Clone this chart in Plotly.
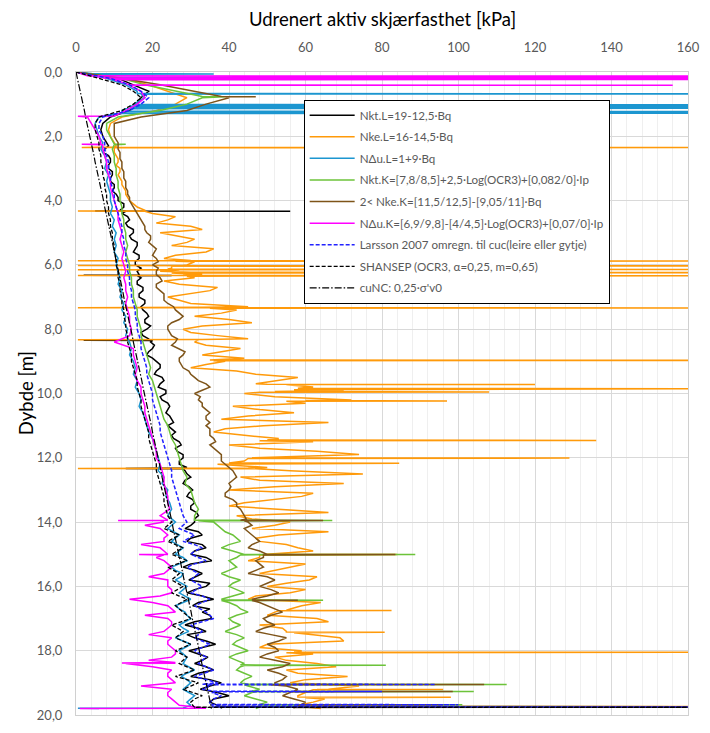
import plotly.graph_objects as go

# ---------------- data ----------------
depth = [0.0, 0.2, 0.4, 0.6, 0.8, 1.0, 1.2, 1.4, 1.6, 1.8,
         2.0, 2.2, 2.4, 2.6, 2.8, 3.0, 3.2, 3.4, 3.6, 3.8,
         4.0, 4.2, 4.4, 4.6, 4.8, 5.0, 5.2, 5.4, 5.6, 5.8,
         6.0, 6.2, 6.4, 6.6, 6.8, 7.0, 7.2, 7.4, 7.6, 7.8,
         8.0, 8.2, 8.4, 8.6, 8.8, 9.0, 9.2, 9.4, 9.6, 9.8,
         10.0, 10.2, 10.4, 10.6, 10.8, 11.0, 11.2, 11.4, 11.6, 11.8,
         12.0, 12.2, 12.4, 12.6, 12.8, 13.0, 13.2, 13.4, 13.6, 13.8,
         14.0, 14.2, 14.4, 14.6, 14.8, 15.0, 15.2, 15.4, 15.6, 15.8,
         16.0, 16.2, 16.4, 16.6, 16.8, 17.0, 17.2, 17.4, 17.6, 17.8,
         18.0, 18.2, 18.4, 18.6, 18.8, 19.0, 19.2, 19.4, 19.6, 19.8]

# intermediate readings (odd tenths)
depth_mid = [2.1, 2.3, 2.5, 2.7, 2.9, 3.1, 3.3, 3.5, 3.7, 3.9,
             4.1, 4.3, 4.5, 4.7, 4.9, 5.1, 5.3, 5.5, 5.7, 5.9,
             6.1, 6.3, 6.5, 6.7, 6.9, 7.1, 7.3, 7.5, 7.7, 7.9,
             8.1, 8.3, 8.5, 8.7, 8.9, 9.1, 9.3, 9.5, 9.7, 9.9,
             10.1, 10.3, 10.5, 10.7, 10.9, 11.1, 11.3, 11.5, 11.7, 11.9,
             12.1, 12.3, 12.5, 12.7, 12.9, 13.1, 13.3, 13.5, 13.7, 13.9,
             14.1, 14.3, 14.5, 14.7, 14.9, 15.1, 15.3, 15.5, 15.7, 15.9,
             16.1, 16.3, 16.5, 16.7, 16.9, 17.1, 17.3, 17.5, 17.7, 17.9,
             18.1, 18.3, 18.5, 18.7, 18.9, 19.1, 19.3, 19.5, 19.7]
depth_mid_deep = [14.1, 14.3, 14.5, 14.7, 14.9, 15.1, 15.3, 15.5, 15.7, 15.9,
                  16.1, 16.3, 16.5, 16.7, 16.9, 17.1, 17.3, 17.5, 17.7, 17.9,
                  18.1, 18.3, 18.5, 18.7, 18.9, 19.1, 19.3, 19.5, 19.7]

# Nkt.L
nkt_L = [0, 11, 15, 19, 17, 16, 14, 9, 7, 6.5,
         7, 8, 7.5, 8.5, 9, 8.5, 9.5, 9, 10, 10.5,
         11, 12.5, 12, 14, 13.5, 15, 14.5, 16, 15, 16.5,
         15.5, 16, 17, 16, 17.5, 16.5, 18, 17.5, 19, 18,
         18.5, 17.5, 19.5, 20, 18.5, 21, 22, 20.5, 23, 21.5,
         23.5, 22.5, 24.5, 23.5, 25, 24, 26, 25.5, 27.5, 26.5,
         28, 27, 28.5, 30, 28, 30.5, 29, 31, 30, 32,
         31, 28.5, 33, 29, 34, 30, 35.5, 28, 33, 29.5,
         34, 29, 36, 30.5, 33, 35.5, 28.5, 34, 31, 36.5,
         29.5, 34.5, 31, 36, 30, 38, 32.5, 40, 35, 38]
nkt_L_mid = [7.5, 8.5, 7, 9, 8.5, 9.5, 9, 10, 9.5, 11,
             12.5, 11.5, 13.5, 13, 15, 14, 16, 15.5, 16.5, 15.5,
             17, 16.5, 16, 17.5, 16.5, 18, 17, 18.5, 18, 19.5,
             17, 19, 20.5, 19, 20, 22, 21, 22.5, 22, 23.5,
             22, 24, 24, 24.5, 25.5, 25, 25, 27, 26, 28,
             27, 29, 29, 28.5, 29.5, 29.5, 30.5, 30, 31.5, 31,
             30, 32, 30, 33, 31, 34, 30, 31, 31, 35,
             31, 33, 32, 35, 35, 31, 32, 29, 34, 33,
             32, 33, 34, 32, 35, 35, 37, 36, 37]
nkt_L_spk_d = [4.32, 4.325, 4.33, 4.335, 6.32, 6.325, 6.33, 6.335,
               8.33, 8.34, 8.35, 12.32, 12.33, 12.34, 19.735, 19.74, 19.745]
nkt_L_spk_v = [13, 5, 56, 13, 16, 2, 25, 16,
               19, 2, 20, 28, 13, 28, 38, 170, 38]

# Nke.L
nke_L = [0, 13, 19, 24, 29, 26, 21, 12, 9, 8.5,
         9, 10, 10, 10.5, 11, 11.5, 11, 12, 12.5, 13,
         14, 16, 20, 24, 30, 22, 31, 25, 34, 23,
         29, 22, 31, 27, 35, 24, 30, 42, 31, 46,
         28, 37, 31, 43, 33, 39, 30, 47, 52, 62,
         44, 72, 41, 57, 38, 49, 36, 53, 40, 63,
         46, 37, 56, 43, 70, 40, 59, 44, 52, 42,
         56, 46, 53, 48, 58, 50, 45, 56, 48, 61,
         50, 56, 45, 59, 52, 63, 48, 55, 69, 50,
         59, 52, 63, 55, 71, 56, 66, 58, 62, 64]
nke_L_mid = [9.5, 10.5, 10, 11, 10.5, 11.5, 11.5, 12, 13, 13.5,
             15, 18, 26, 21, 33, 27, 29, 36, 26, 31,
             25, 33, 23, 37, 30, 27, 45, 38, 40, 33,
             30, 45, 34, 38, 44, 34, 42, 58, 47, 70,
             52, 60, 48, 45, 66, 39, 44, 62, 48, 74,
             44, 50, 75, 48, 52, 62, 52, 40, 66, 46,
             52, 66, 47, 55, 62, 48, 60, 52, 63, 55,
             60, 47, 64, 56, 50, 66, 54, 62, 70, 48,
             62, 55, 68, 58, 60, 74, 60, 65, 58]
nke_L_spk_d = [2.33, 2.345, 2.35, 2.36, 4.32, 4.325, 4.33,
               5.86, 5.87, 5.88, 5.89, 6.01, 6.02, 6.03, 6.04,
               6.13, 6.14, 6.15, 6.16, 6.23, 6.24, 6.25,
               6.32, 6.33, 6.34, 6.35, 7.32, 7.33, 7.34, 7.35,
               8.32, 8.325, 8.33, 8.96, 8.97, 8.98,
               9.71, 9.72, 9.73, 9.84, 9.85, 9.86, 9.87, 9.88,
               9.94, 9.95, 9.96, 10.22, 10.23, 10.24,
               11.45, 11.46, 11.47, 12.005, 12.01, 12.02,
               12.16, 12.17, 12.18, 12.32, 12.33, 12.34,
               15.005, 15.01, 15.02, 16.74, 16.75, 16.76,
               17.42, 17.43, 17.44, 18.04, 18.05, 18.06,
               19.205, 19.21, 19.215, 19.44, 19.45, 19.46,
               19.73, 19.74, 19.75]
nke_L_spk_v = [10, 1.5, 170, 10, 18, 0.5, 18,
               30, 0.5, 170, 26, 28, 0.5, 170, 25,
               24, 170, 0.5, 27, 30, 170, 25,
               28, 0.5, 170, 29, 33, 0.5, 170, 35,
               33, 0.5, 32, 35, 170, 36,
               50, 120, 55, 58, 170, 60, 170, 57,
               52, 108, 48, 60, 97, 55,
               50, 136, 48, 48, 129, 45,
               40, 84.5, 38, 45, 0.5, 47,
               50, 84, 48, 55, 82.5, 53,
               55, 80.7, 57, 57, 170, 55,
               63, 96, 62, 58, 98, 60,
               62, 170, 60]

# NΔu.L
ndu_L = [0, 8, 13, 16, 18, 15, 12, 6, 5, 5.5,
         6, 7, 6.5, 7.5, 8, 7.5, 8.5, 8, 8.5, 9,
         9, 9.5, 9, 10, 9.5, 10.5, 10, 10.5, 10, 11,
         10.5, 11, 11.5, 11, 12, 11.5, 12.5, 12, 13, 12.5,
         13.5, 13, 14, 14.5, 14, 15, 15.5, 15, 16, 15.5,
         16.5, 17, 16.5, 17.5, 18, 18.5, 19, 20, 20.5, 21,
         21.5, 22, 21.5, 23, 22.5, 24, 23.5, 24.5, 25, 24,
         26, 24, 27, 25, 28, 26, 29, 25, 28, 26,
         29, 27, 30, 26, 28.5, 30, 27, 29.5, 26, 30,
         27, 29, 28, 31, 27.5, 30, 28, 31, 29, 6]
ndu_L_mid = [25, 25.5, 26, 26.5, 27, 28, 27, 26, 27.5, 27.5,
             28, 28.5, 28, 27, 29, 28.5, 28, 27.5, 28, 28.5,
             28, 28.5, 29.5, 29, 29, 29, 29.5, 30, 30]
ndu_L_spk_d = [0.05, 0.06, 0.07, 0.17, 0.18, 0.19, 0.67, 0.68, 0.69,
               1.01, 1.02, 1.03, 1.05, 1.06, 1.09, 1.10, 1.13, 1.14,
               1.22, 1.23, 1.24, 1.28, 1.29, 19.78, 19.79]
ndu_L_spk_v = [4, 36, 4, 8, 148, 8, 16, 170, 17,
               15, 170, 15, 170, 14, 170, 14, 170, 13,
               12, 170, 12, 170, 11, 28, 0.5]

# Nkt.K
nkt_K = [0, 12, 18, 26, 33, 29, 22, 11, 8, 8,
         9, 10, 9.5, 10, 10, 10.5, 10.5, 11, 11, 11.5,
         11.5, 12, 12, 12.5, 12.5, 13, 13, 13.5, 13, 13.5,
         14, 14, 14.5, 14.5, 15, 15, 15.5, 16, 16, 16.5,
         17, 17, 17.5, 18, 18.5, 19, 19.5, 19, 20, 20.5,
         21, 21.5, 22, 22.5, 23, 24, 24.5, 25, 26, 26.5,
         27, 27.5, 28, 29, 28.5, 30, 30.5, 31, 32, 31,
         36, 38, 41, 43, 38, 44, 40, 42, 38, 43,
         40, 44, 38, 42, 45, 40, 43, 39, 44, 41,
         45, 40, 44, 42, 46, 43, 48, 44, 50, 47]
nkt_K_mid = [37, 39, 42, 40, 41, 42, 41, 40, 40, 41,
             42, 41, 40, 43, 42, 41, 41, 42, 42, 43,
             42, 42, 43, 44, 44, 45, 46, 47, 48]
nkt_K_spk_d = [0.76, 0.77, 0.78, 2.24, 2.25, 2.26, 13.94, 13.95, 13.96,
               15.005, 15.01, 15.02, 16.42, 16.43, 16.44, 18.44, 18.45, 18.46,
               19.04, 19.05, 19.06, 19.26, 19.27, 19.28, 19.67, 19.68, 19.69,
               19.745, 19.75, 19.755]
nkt_K_spk_v = [33, 39, 34, 10, 13, 10, 31, 67, 32,
               44, 88.7, 43, 39, 64.6, 38, 43, 81, 44,
               45, 112.6, 44, 46, 104, 47, 48, 101, 49,
               48, 130, 48]

# Nke.K
nke_K = [0, 12, 22, 31, 40, 34, 29, 17, 10, 10,
         10, 11, 11, 11.5, 12, 12, 12.5, 13, 13, 13.5,
         14, 15, 16, 17, 18, 18.5, 19.5, 20, 20.5, 21,
         20, 21, 22, 21, 22, 23, 24, 26, 28, 25,
         24, 25, 26, 27, 28, 27, 28, 30, 32, 35,
         31, 32, 33, 35, 34, 34, 35, 36, 35, 37,
         38, 39, 41, 42, 40, 40, 39, 42, 43, 44,
         45, 44, 46, 48, 45, 50, 47, 49, 45, 52,
         48, 53, 46, 50, 54, 49, 52, 47, 55, 50,
         53, 48, 56, 50, 55, 52, 58, 54, 60, 57]
nke_K_mid = [10.5, 11, 11.5, 11.5, 12, 12.5, 12.5, 13, 13.5, 14,
             14.5, 15.5, 16.5, 17.5, 18, 19.5, 19, 21, 20, 21.5,
             21.5, 21, 22.5, 21, 23, 23, 25.5, 27, 27, 24,
             24.5, 26.5, 25, 28.5, 27, 27.5, 29.5, 31, 34, 33,
             32.5, 33, 34, 34, 35, 35, 35, 36.5, 36, 38,
             38, 40, 41.5, 41, 40.5, 39, 41, 42, 43.5, 44.5,
             46, 45, 47, 46, 48, 49, 48, 47, 50, 50,
             51, 50, 48, 52, 51, 50, 49, 51, 53, 52,
             50, 52, 54, 53, 54, 55, 56, 57, 58]
nke_K_spk_d = [0.76, 0.77, 0.78, 13.94, 13.95, 13.96, 15.005, 15.01, 15.02,
               16.42, 16.43, 16.44, 19.04, 19.05, 19.06, 19.26, 19.27, 19.28,
               19.67, 19.68, 19.69, 19.755, 19.76, 19.765]
nke_K_spk_v = [38, 47, 39, 43, 64.6, 44, 50, 83.5, 49,
               47, 58, 46, 52, 106.7, 51, 57, 98.5, 56,
               59, 96, 58, 58, 170, 57]

# NΔu.K
ndu_K = [0, 9, 14, 17, 18, 16, 13, 3, 4, 5,
         6, 6.5, 7, 7.5, 8, 8, 8.5, 9, 9, 9.5,
         10, 10.5, 11, 11, 11.5, 12, 11.5, 12, 12.5, 12,
         12.5, 13, 12.5, 13, 13, 13.5, 13, 13.5, 14, 14,
         14.5, 14, 10, 15, 15, 15.5, 16, 15.5, 16, 17,
         17, 17.5, 18, 18, 18.5, 19, 19.5, 20, 20.5, 21,
         21, 22, 22.5, 23, 23, 23.5, 24, 24, 24.5, 22,
         23, 22, 24, 23, 22, 24, 23, 25, 23, 24,
         24, 25, 14, 24, 26, 24, 25, 23, 25, 24,
         26, 25, 13, 25, 24, 26, 25, 24, 26, 1]
ndu_K_mid = [18, 23, 23, 17, 23, 21, 24, 24, 19, 24,
             25, 22, 20, 25, 18, 25, 24, 19, 24, 25,
             26, 19, 20, 24, 25, 17, 24, 25, 27]
ndu_K_spk_d = [0.12, 0.125, 0.13, 0.155, 0.16, 0.185, 0.19,
               0.23, 0.235, 0.24, 0.405, 0.41, 0.415,
               1.37, 1.38, 1.39, 2.24, 2.25, 2.26,
               13.94, 13.95, 13.96, 15.005, 15.01, 15.02,
               18.37, 18.38, 18.39, 19.79]
ndu_K_spk_v = [3, 170, 4, 170, 5, 170, 7,
               10, 170, 10, 14, 156, 14,
               10, 0.5, 8, 6.5, 1.5, 7,
               24, 11, 22, 24, 16.5, 23,
               26, 12, 26, 34]

# Larsson 2007
larsson = [0, 9, 14, 17, 19, 17, 14, 7, 6, 6,
           7, 7.5, 7.5, 8, 8.5, 8.5, 9, 9, 9.5, 10,
           10, 10.5, 11, 11.5, 12, 12, 12.5, 12.5, 13, 13,
           13.5, 13.5, 14, 14, 14.5, 14.5, 15, 15.5, 15.5, 16,
           16, 16.5, 17, 17, 17.5, 18, 18.5, 18.5, 19, 19.5,
           20, 20, 20.5, 21, 21.5, 22, 22, 22.5, 23, 23.5,
           24, 24.5, 25, 25, 25.5, 26, 26.5, 27, 27.5, 28,
           29, 27, 31, 28, 33, 30, 34, 29, 32, 30,
           33, 30, 35, 31, 34, 36, 30, 33, 31, 35,
           31, 34, 32, 36, 31, 37, 33, 38, 35, 36]
larsson_mid = [28, 29, 29.5, 31, 31, 32, 31, 30.5, 31, 31.5,
               31.5, 33, 33, 32.5, 35, 33, 31.5, 32, 33, 33,
               32.5, 33, 34, 33.5, 34, 35, 35.5, 36, 35.5]
larsson_spk_d = [19.04, 19.05, 19.06, 19.26, 19.27, 19.28,
                 19.67, 19.68, 19.69, 19.745, 19.75, 19.755]
larsson_spk_v = [33, 94, 34, 36, 80, 37, 35, 100, 36, 36, 170, 36]

# SHANSEP
shansep = [0, 6, 12, 15, 17, 15, 12, 6, 5, 5,
           5.5, 6, 6, 6.5, 6.5, 7, 7, 7.5, 7.5, 8,
           8, 8.5, 8.5, 9, 9, 9.5, 9.5, 10, 10, 10.5,
           10.5, 11, 11, 11.5, 11.5, 12, 12, 12.5, 12.5, 13,
           13, 13.5, 13.5, 14, 14.5, 14.5, 15, 15.5, 16, 16,
           16.5, 17, 17, 17.5, 18, 18.5, 19, 19, 19.5, 20,
           20.5, 21, 21, 21.5, 22, 22.5, 23, 23, 23.5, 24,
           25, 23, 27, 24, 28, 25, 29, 24, 27, 25,
           28, 25, 29, 26, 28, 30, 25, 28, 26, 30,
           26, 29, 27, 31, 26, 32, 28, 33, 30, 31]
shansep_mid = [24, 25, 25.5, 26, 26.5, 27, 26.5, 25.5, 26, 26.5,
               26.5, 27, 27.5, 27, 29, 27.5, 26.5, 27, 28, 28,
               27.5, 28, 29, 28.5, 29, 30, 30.5, 31, 30.5]
shansep_spk_d = [19.755, 19.76, 19.765]
shansep_spk_v = [31, 170, 31]

# cuNC
cu_nc = [0, 0.4, 0.7, 1.1, 1.5, 1.8, 2.2, 2.5, 2.9, 3.3,
         3.6, 4.0, 4.3, 4.7, 5.0, 5.4, 5.7, 6.1, 6.5, 6.8,
         7.2, 7.5, 7.9, 8.2, 8.6, 9.0, 9.3, 9.7, 10.0, 10.4,
         10.8, 11.1, 11.5, 11.8, 12.2, 12.5, 12.9, 13.3, 13.6, 14.0,
         14.3, 14.7, 15.0, 15.4, 15.8, 16.1, 16.5, 16.8, 17.2, 17.5,
         17.9, 18.3, 18.6, 19.0, 19.3, 19.7, 20.0, 20.4, 20.8, 21.1,
         21.5, 21.8, 22.2, 22.5, 22.9, 23.3, 23.6, 24.0, 24.3, 24.7,
         25.1, 25.4, 25.8, 26.1, 26.5, 26.8, 27.2, 27.6, 27.9, 28.3,
         28.6, 29.0, 29.3, 29.7, 30.1, 30.4, 30.8, 31.1, 31.5, 31.8,
         32.2, 32.6, 32.9, 33.3, 33.6, 34.0, 34.4, 34.7, 35.1, 35.4]

names = ["Nkt.L=19-12,5·Bq",
         "Nke.L=16-14,5·Bq",
         "NΔu.L=1+9·Bq",
         "Nkt.K=[7,8/8,5]+2,5·Log(OCR3)+[0,082/0]·Ip",
         "2< Nke.K=[11,5/12,5]-[9,05/11]·Bq",
         "NΔu.K=[6,9/9,8]-[4/4,5]·Log(OCR3)+[0,07/0]·Ip",
         "Larsson 2007 omregn. til cuc(leire eller gytje)",
         "SHANSEP (OCR3, α=0,25, m=0,65)",
         "cuNC: 0,25·σ'v0"]
series = [(nkt_L, depth_mid, nkt_L_mid, nkt_L_spk_d, nkt_L_spk_v),
          (nke_L, depth_mid, nke_L_mid, nke_L_spk_d, nke_L_spk_v),
          (ndu_L, depth_mid_deep, ndu_L_mid, ndu_L_spk_d, ndu_L_spk_v),
          (nkt_K, depth_mid_deep, nkt_K_mid, nkt_K_spk_d, nkt_K_spk_v),
          (nke_K, depth_mid, nke_K_mid, nke_K_spk_d, nke_K_spk_v),
          (ndu_K, depth_mid_deep, ndu_K_mid, ndu_K_spk_d, ndu_K_spk_v),
          (larsson, depth_mid_deep, larsson_mid, larsson_spk_d, larsson_spk_v),
          (shansep, depth_mid_deep, shansep_mid, shansep_spk_d, shansep_spk_v),
          (cu_nc, [], [], [], [])]
colors = ["#000000", "#FF9A0A", "#1C96D0", "#6CC33A", "#7E5419",
          "#FF00FF", "#2222FF", "#000000", "#000000"]
dashes = ["solid", "solid", "solid", "solid", "solid", "solid",
          "4px,2px", "4px,2px", "7px,2px,1.5px,2px"]
widths = [1.5, 1.5, 1.5, 1.5, 1.5, 1.5, 1.5, 1.3, 1.2]


def merged(base, md, mv, sd, sv):
    pts = sorted(list(zip(depth, base)) + list(zip(md, mv)) + list(zip(sd, sv)),
                 key=lambda p: p[0])
    return [p[1] for p in pts], [p[0] for p in pts]


fig = go.Figure()
for i, (name, s, c, dsh, w) in enumerate(zip(names, series, colors, dashes, widths)):
    xv, yv = merged(*s)
    fig.add_trace(go.Scatter(x=xv, y=yv, mode="lines", name=name,
                             legendgroup="g%d" % i,
                             line=dict(color=c, width=w, dash=dsh)))

fig.update_layout(
    width=710, height=733,
    margin=dict(l=76, r=13, t=72, b=10),
    paper_bgcolor="white", plot_bgcolor="white",
    font=dict(family="Lato", color="#595959", size=13),
    separators=",.",
    legend=dict(x=0.372, y=0.957, xanchor="left", yanchor="top",
                bgcolor="white", bordercolor="#000000", borderwidth=1,
                itemwidth=45, tracegroupgap=2.6, traceorder="grouped",
                font=dict(size=11.6, color="#595959")),
    annotations=[
        dict(text="Udrenert aktiv skjærfasthet [kPa]", xref="paper", yref="paper",
             x=0.5, y=1 + 54 / 651, xanchor="center", yanchor="middle",
             showarrow=False, font=dict(size=18.5, color="#000000")),
        dict(text="Dybde [m]", xref="paper", yref="paper",
             x=-51 / 621, y=0.5, xanchor="center", yanchor="middle", textangle=-90,
             showarrow=False, font=dict(size=18.5, color="#000000")),
    ],
)
fig.update_xaxes(range=[0, 160], side="top", dtick=20, tick0=0,
                 showgrid=True, gridcolor="#D9D9D9", gridwidth=1,
                 minor=dict(dtick=4, showgrid=True, gridcolor="#EFEFEF", gridwidth=1),
                 zeroline=False, showline=True, linecolor="#D0D0D0", mirror=True,
                 ticks="", ticklabelstandoff=14, tickfont=dict(size=13, color="#595959"))
fig.update_yaxes(range=[20, 0], dtick=2, tick0=0, tickformat=".1f",
                 showgrid=True, gridcolor="#D9D9D9", gridwidth=1,
                 zeroline=False, showline=True, linecolor="#D0D0D0", mirror=True,
                 ticks="", ticklabelstandoff=10, tickfont=dict(size=13, color="#595959"))

fig.write_html("out.html")
